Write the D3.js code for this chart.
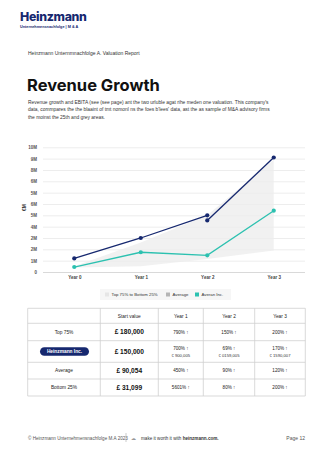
<!DOCTYPE html>
<html>
<head>
<meta charset="utf-8">
<script src="https://cdn.jsdelivr.net/npm/d3@7"></script>
<style>
  body { margin: 0; background: #fff; }
  svg { display: block; font-family: "Liberation Sans", Arial, sans-serif; }
</style>
</head>
<body>
<script>
// data
var years = ["Year 0", "Year 1", "Year 2", "Year 3"];
var yTickLabels = ["0", "1M", "2M", "2M", "4M", "5M", "6M", "5M", "6M", "8M", "9M", "10M"];
var companyEarly = [1.2, 3.0, 5.0];      // Year 0 - Year 2
var companyLate = [4.55, 10.1];          // Year 2 - Year 3
var averageValues = [0.44, 1.74, 1.47, 5.41];
var bandTop = [0.5, 2.6, 5.0, 9.9];
var bandBottom = [0.4, 0.5, 1.15, 1.9];

var tableHead = ["", "Start value", "Year 1", "Year 2", "Year 3"];
var rowNames = ["Top 75%", "Heinzmann Inc.", "Average", "Bottom 25%"];
var startValues = ["£ 180,000", "£ 150,000", "£ 90,054", "£ 31,099"];
var growthPct = [
  ["790%", "150%", "200%"],
  ["700%", "69%", "170%"],
  ["450%", "90%", "120%"],
  ["5601%", "80%", "200%"]
];
var companyAmounts = ["€ 900,005", "€ 0159,005", "€ 1590,007"];

var navy = "#16286f", teal = "#2cc1b0";

var svg = d3.select("body").append("svg")
    .attr("width", 328)
    .attr("height", 464);

//Header_____________________________________________________________
svg.append("text").attr("x", 20).attr("y", 21)
    .attr("font-family", "Inter, sans-serif").attr("font-weight", 800)
    .attr("font-size", "12.3px").attr("fill", navy).attr("letter-spacing", "-0.3")
    .text("Heinzmann");
svg.append("text").attr("x", 20).attr("y", 27.5)
    .attr("font-weight", "bold").attr("font-size", "3.8px").attr("fill", navy)
    .text("Unternehmensnachfolge | M & A");

svg.append("text").attr("x", 28).attr("y", 55)
    .attr("font-size", "5px").attr("fill", "#333")
    .text("Heinzmann Unternmnachfolge A. Valuation Report");

svg.append("text").attr("x", 27).attr("y", 91)
    .attr("font-family", "Inter, sans-serif").attr("font-weight", 700)
    .attr("font-size", "16.5px").attr("fill", "#111")
    .text("Revenue Growth");

var para = [
  "Revenue growth and EBITA (see (see page) ant the two urluble agat rihe meden one valuation. This company's",
  "data, commpares the the blaaint of tmt nomonl ns the foes b'lees' data, ast the as sample of M&A advisory firms",
  "the moinst the 25th and grey areas."
];
svg.selectAll(".para").data(para).enter().append("text")
    .attr("class", "para")
    .attr("x", 28)
    .attr("y", (d, i) => 103.5 + i * 7.8)
    .attr("font-size", "4.9px").attr("fill", "#333")
    .text(d => d);

//Chart______________________________________________________________
var plotLeft = 43, plotRight = 305, plotTop = 147.3, plotBottom = 272;

var x = d3.scalePoint()
    .domain(years)
    .range([plotLeft, plotRight])
    .padding(0.47);

var y = d3.scaleLinear()
    .domain([0, 11])
    .range([plotBottom, plotTop]);

var g = svg.append("g");

// grid
var leftAxis = d3.axisLeft(y)
    .tickValues(d3.range(0, 12))
    .tickSize(-(plotRight - plotLeft))
    .tickPadding(6)
    .tickFormat((d, i) => yTickLabels[i]);

g.append("g")
    .attr("class", "left axis")
    .attr("transform", "translate(" + plotLeft + ",0)")
    .call(leftAxis)
    .call(a => a.select(".domain").remove())
    .call(a => a.selectAll("line").attr("stroke", (d) => d === 0 ? "#d9d9d9" : "#ededed").attr("stroke-width", 1))
    .call(a => a.selectAll("text").attr("font-size", "4.5px").attr("fill", "#555").attr("font-weight", "bold"));

g.append("text")
    .attr("transform", "translate(26," + ((plotTop + plotBottom) / 2 - 2) + ") rotate(-90)")
    .attr("text-anchor", "middle")
    .attr("font-size", "5px").attr("font-weight", "bold").attr("fill", "#333")
    .text("€M");

var bottomAxis = d3.axisBottom(x).tickSize(0).tickPadding(4);
g.append("g")
    .attr("transform", "translate(0," + plotBottom + ")")
    .call(bottomAxis)
    .call(a => a.select(".domain").remove())
    .call(a => a.selectAll("text").attr("font-size", "4.5px").attr("fill", "#444").attr("font-weight", "bold"));

// band
var band = d3.area()
    .x((d, i) => x(years[i]))
    .y0((d, i) => y(bandBottom[i]))
    .y1(d => y(d));

g.append("path")
    .datum(bandTop)
    .attr("d", band)
    .attr("fill", "#ececec")
    .attr("opacity", 0.75);

// lines
var line = d3.line()
    .x(d => x(d.year))
    .y(d => y(d.value));

var avgPts = averageValues.map((v, i) => ({year: years[i], value: v}));
var earlyPts = companyEarly.map((v, i) => ({year: years[i], value: v}));
var latePts = companyLate.map((v, i) => ({year: years[i + 2], value: v}));

g.append("path").datum(avgPts).attr("d", line)
    .attr("fill", "none").attr("stroke", teal).attr("stroke-width", 1.3);
g.selectAll(".avgdot").data(avgPts).enter().append("circle")
    .attr("cx", d => x(d.year)).attr("cy", d => y(d.value)).attr("r", 2.1).attr("fill", teal);

[earlyPts, latePts].forEach(function(pts) {
  g.append("path").datum(pts).attr("d", line)
      .attr("fill", "none").attr("stroke", navy).attr("stroke-width", 1.3);
  g.selectAll(null).data(pts).enter().append("circle")
      .attr("cx", d => x(d.year)).attr("cy", d => y(d.value)).attr("r", 2.1).attr("fill", navy);
});

// legend
var lg = svg.append("g");
lg.append("rect").attr("x", 100).attr("y", 289).attr("width", 131).attr("height", 11)
    .attr("fill", "#f6f6f6");
var legendItems = [
  {label: "Top 75% to Bottom 25%", color: "#e6e6e6", x: 105},
  {label: "Average", color: "#b5b5b5", x: 166},
  {label: "Averan Inc.", color: teal, x: 195}
];
legendItems.forEach(function(it) {
  lg.append("rect").attr("x", it.x).attr("y", 292.5).attr("width", 4).attr("height", 4).attr("fill", it.color);
  lg.append("text").attr("x", it.x + 6.5).attr("y", 296.2)
      .attr("font-size", "4.3px").attr("fill", "#333").text(it.label);
});

//Table______________________________________________________________
var colX = [27.7, 100.3, 158.3, 203.3, 254.7, 305.3];
var rowY = [308.3, 323.3, 340.7, 362.3, 379, 396];
var tg = svg.append("g");

rowY.forEach(function(yy) {
  tg.append("line").attr("x1", colX[0]).attr("x2", colX[5]).attr("y1", yy).attr("y2", yy)
      .attr("stroke", "#cfcfcf").attr("stroke-width", 0.8);
});
colX.forEach(function(xx) {
  tg.append("line").attr("x1", xx).attr("x2", xx).attr("y1", rowY[0]).attr("y2", rowY[5])
      .attr("stroke", "#cfcfcf").attr("stroke-width", 0.8);
});

function mid(i) { return (colX[i] + colX[i + 1]) / 2; }
function rmid(i) { return (rowY[i] + rowY[i + 1]) / 2; }

tableHead.forEach(function(h, i) {
  tg.append("text").attr("x", mid(i)).attr("y", rmid(0) + 1.7)
      .attr("text-anchor", "middle").attr("font-size", "4.8px").attr("fill", "#222")
      .text(h);
});

rowNames.forEach(function(name, r) {
  var cy = rmid(r + 1);
  if (r === 1) {
    tg.append("rect").attr("x", 40).attr("y", cy - 4.3).attr("width", 49).attr("height", 8.6)
        .attr("rx", 4.3).attr("fill", navy);
    tg.append("text").attr("x", 64.5).attr("y", cy + 1.7).attr("text-anchor", "middle")
        .attr("font-size", "4.8px").attr("font-weight", "bold").attr("fill", "#fff").text(name);
  } else {
    tg.append("text").attr("x", mid(0)).attr("y", cy + 1.7).attr("text-anchor", "middle")
        .attr("font-size", "4.8px").attr("fill", "#222").text(name);
  }
  tg.append("text").attr("x", mid(1)).attr("y", cy + 2.3).attr("text-anchor", "middle")
      .attr("font-size", "6.6px").attr("font-weight", "bold").attr("fill", "#111").text(startValues[r]);
  growthPct[r].forEach(function(p, c) {
    if (r === 1) {
      tg.append("text").attr("x", mid(c + 2)).attr("y", cy - 1.2).attr("text-anchor", "middle")
          .attr("font-size", "4.6px").attr("fill", "#222").text(p + " ↑");
      tg.append("text").attr("x", mid(c + 2)).attr("y", cy + 5.3).attr("text-anchor", "middle")
          .attr("font-size", "4.2px").attr("fill", "#333").text(companyAmounts[c]);
    } else {
      tg.append("text").attr("x", mid(c + 2)).attr("y", cy + 1.6).attr("text-anchor", "middle")
          .attr("font-size", "4.6px").attr("fill", "#222").text(p + " ↑");
    }
  });
});

//Footer_____________________________________________________________
svg.append("text").attr("x", 28).attr("y", 439.5)
    .attr("font-size", "4.6px").attr("fill", "#555")
    .text("© Heinzmann Unternehmensnachfolge M.A 2023");
svg.append("line").attr("x1", 126).attr("x2", 126).attr("y1", 433).attr("y2", 442)
    .attr("stroke", "#aaa").attr("stroke-width", 0.6);
svg.append("text").attr("x", 131).attr("y", 439.5)
    .attr("font-size", "5px").attr("fill", "#999").text("☁");
svg.append("text").attr("x", 141).attr("y", 439.5)
    .attr("font-size", "4.6px").attr("fill", "#333")
    .text("make it worth it with ")
  .append("tspan").attr("font-weight", "bold").text("heinzmann.com.");
svg.append("text").attr("x", 305).attr("y", 439.5).attr("text-anchor", "end")
    .attr("font-size", "5px").attr("fill", "#555").text("Page 12");
</script>
</body>
</html>
